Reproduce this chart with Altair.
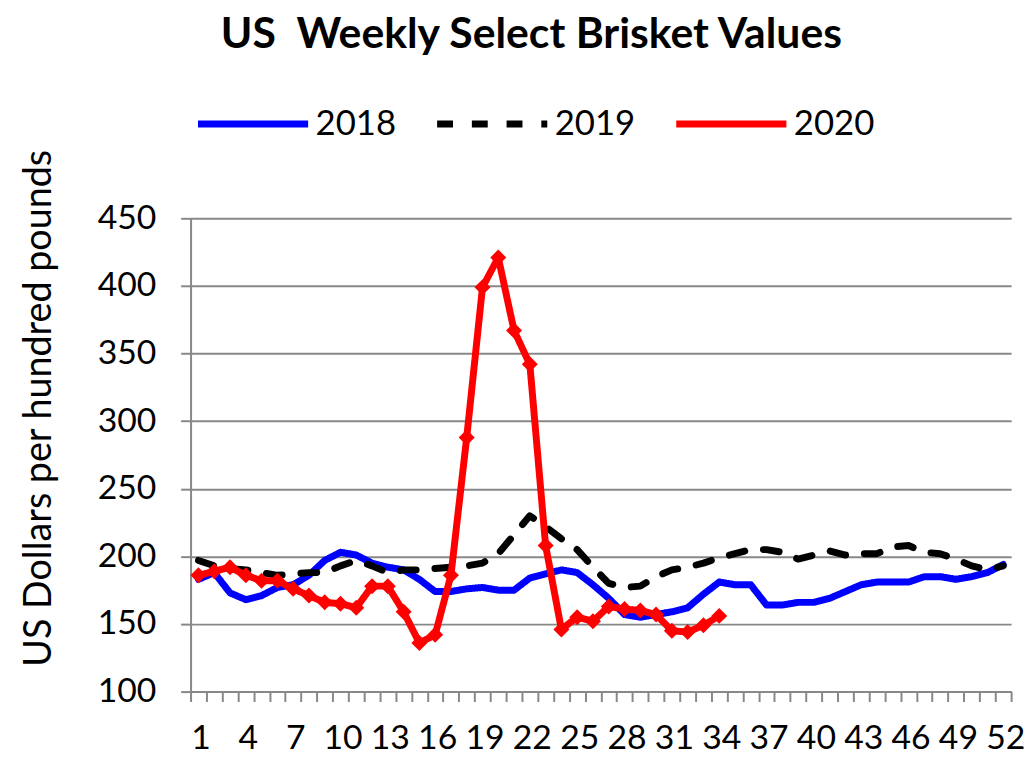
import altair as alt
import pandas as pd

weeks_2018 = list(range(1, 53))
vals_2018 = [183, 188, 173, 168, 171, 177, 179, 186, 197, 203, 201, 195, 192, 190, 183, 174,
             174, 176, 177, 175, 175, 184, 187, 190, 188, 179, 169, 157, 155, 157, 159, 162,
             172, 181, 179, 179, 164, 164, 166, 166, 169, 174, 179, 181, 181, 181, 185, 185,
             183, 185, 188, 194]

weeks_2019 = list(range(1, 53))
vals_2019 = [197, 193, 191, 190, 188, 186, 187, 188, 188, 193, 197, 193, 188, 190, 190, 191,
             192, 193, 195, 202, 216, 230, 222, 213, 205, 192, 180, 177, 178, 185, 190, 192,
             195, 199, 202, 205, 205, 203, 198, 201, 204, 201, 202, 202, 207, 208, 203, 202,
             198, 193, 190, 193]

weeks_2020 = list(range(1, 35))
vals_2020 = [186, 189, 192, 186, 182, 182, 176, 171, 166, 165, 162, 178, 178, 159, 136, 142,
             186, 288, 399, 421, 367, 342, 208, 146, 155, 152, 163, 161, 160, 157, 145, 144,
             149, 156]

years = ["2018", "2019", "2020"]
year_colors = ["#0000FF", "#000000", "#FF0000"]
year_dashes = [[1, 0], [16, 19], [1, 0]]
year_widths = [7, 7, 8]

y_ticks = [100, 150, 200, 250, 300, 350, 400, 450]
x_ticks = [w - 0.5 for w in range(1, 54)]

rows = []
for yr, wks, vals in [("2018", weeks_2018, vals_2018),
                      ("2019", weeks_2019, vals_2019),
                      ("2020", weeks_2020, vals_2020)]:
    for w, v in zip(wks, vals):
        rows.append({"week": w, "value": v, "year": yr})
df = pd.DataFrame(rows)

FONT = "Lato"
GRAY = "#888888"

x_enc = alt.X(
    "week:Q",
    scale=alt.Scale(domain=[0.5, 52.5], nice=False, zero=False),
    axis=alt.Axis(
        title=None, values=x_ticks, grid=False,
        labelExpr="(datum.value + 0.5) % 3 == 1 ? format(datum.value + 0.5, 'd') : ''",
        labelOffset=10, labelOverlap=False, labelFlush=False, labelBound=False,
        ticks=True, tickSize=10, tickWidth=2, tickColor=GRAY,
        domainColor=GRAY, domainWidth=2,
        labelFont=FONT, labelFontSize=34, labelColor="black", labelPadding=20,
    ),
)
y_enc = alt.Y(
    "value:Q",
    scale=alt.Scale(domain=[100, 450], nice=False, zero=False),
    axis=alt.Axis(
        title="US Dollars per hundred pounds", values=y_ticks,
        grid=True, gridColor=GRAY, gridWidth=2, labelOverlap=False,
        tickSize=10, tickWidth=2, tickColor=GRAY, domainColor=GRAY, domainWidth=2,
        labelFont=FONT, labelFontSize=34, labelColor="black", labelPadding=25,
        titleFont=FONT, titleFontSize=38, titleFontWeight="normal", titleColor="black",
        titleX=-133, titleY=191, titleAngle=270, titleBaseline="bottom", titleAlign="center",
    ),
)

legend = alt.Legend(
    title=None, orient="none", direction="horizontal",
    legendX=4, legendY=-154,
    symbolType="stroke", symbolSize=12321, symbolStrokeWidth=7,
    labelFont=FONT, labelFontSize=35, labelColor="black", labelOffset=4,
    columnPadding=26, padding=0,
)

lines = alt.Chart(df).mark_line(strokeCap="round", strokeJoin="round").encode(
    x=x_enc,
    y=y_enc,
    color=alt.Color("year:N", scale=alt.Scale(domain=years, range=year_colors), legend=legend),
    strokeDash=alt.StrokeDash("year:N", scale=alt.Scale(domain=years, range=year_dashes),
                              legend=legend),
    strokeWidth=alt.StrokeWidth("year:N", scale=alt.Scale(domain=years, range=year_widths),
                                legend=None),
    order="week:Q",
)

points = alt.Chart(df[df["year"] == "2020"]).mark_point(
    shape="diamond", filled=True, size=260, opacity=1
).encode(
    x=x_enc,
    y=y_enc,
    color=alt.value("#FF0000"),
)

chart = alt.layer(lines, points).properties(
    width=827,
    height=477,
    title=alt.TitleParams(
        "US\u00a0 Weekly Select Brisket Values",
        font=FONT, fontSize=43, fontWeight="bold", color="black",
        anchor="middle", dx=-70, dy=-9, offset=0,
    ),
    autosize=alt.AutoSizeParams(type="none"),
    padding={"left": 184, "top": 209, "right": 16, "bottom": 70},
).configure_view(stroke=None).configure_axis(labelOverlap=False)

chart.save("out.html", embed_options={"renderer": "svg", "actions": False})
